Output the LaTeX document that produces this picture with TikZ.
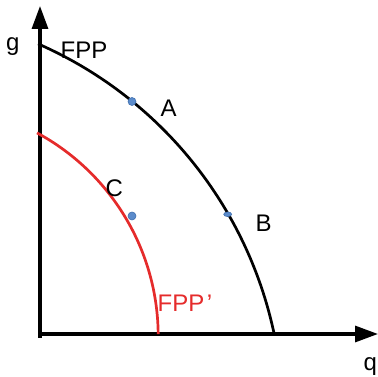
\documentclass[tikz,border=0pt]{standalone}
\usepackage{fontspec}
\setmainfont{Liberation Sans}
\usetikzlibrary{arrows.meta,calc,shapes.geometric}
\definecolor{fppred}{HTML}{E52B2B}
\definecolor{dotfill}{HTML}{5B8BCB}
\definecolor{dotline}{HTML}{3F6FAE}
\begin{document}
\begin{tikzpicture}[x=1pt,y=1pt,
  axis/.style={line width=3.2pt,-{Triangle[length=23pt,width=16pt]}},
  frontier/.style={line width=2.7pt},
  lbl/.style={inner sep=0pt,anchor=base west,font=\fontsize{24}{28}\selectfont},
  pt/.style={circle,fill=dotfill,draw=dotline,line width=0.6pt,inner sep=0pt,minimum size=8pt}]
\useasboundingbox (0,0) rectangle (378,377);
\coordinate (O) at (40,43);
\coordinate (ytip) at (40,371);
\coordinate (xtip) at (378,43);
\draw[axis] ([yshift=-4pt]O) -- (ytip);
\draw[axis] ([xshift=-1.6pt]O) -- (xtip);
% black frontier: circle centre (-126,-41.5), r=409
\coordinate (c1) at (-126,-41.5);
\draw[frontier] ($(c1)+(66.35:409)$) coordinate (f1s) arc[start angle=66.35,end angle=11.93,radius=409] coordinate (f1e);
% red frontier: circle centre (-72.8,40.9), r=231
\coordinate (c2) at (-72.8,40.9);
\draw[frontier,fppred] ($(c2)+(61.6:231)$) coordinate (f2s) arc[start angle=61.6,end angle=0.5,radius=231] coordinate (f2e);
\node[pt] (A) at (132,275.5) {};
\node[pt] (C) at (132,161) {};
\node[pt,ellipse,minimum width=8pt,minimum height=4.6pt] (B) at (227.7,162.7) {};
\node[lbl] (g) at (6,326) {g};
\node[lbl] (fpp) at (60.5,318) {FPP};
\node[lbl] (la) at (160.5,260) {A};
\node[lbl] (lc) at (105.5,180) {C};
\node[lbl] (lb) at (255.5,145) {B};
\node[lbl,text=fppred] (fpp2) at (157.5,65) {FPP\kern2.5pt’};
\node[lbl] (lq) at (363.5,6.5) {q};
\end{tikzpicture}
\end{document}
